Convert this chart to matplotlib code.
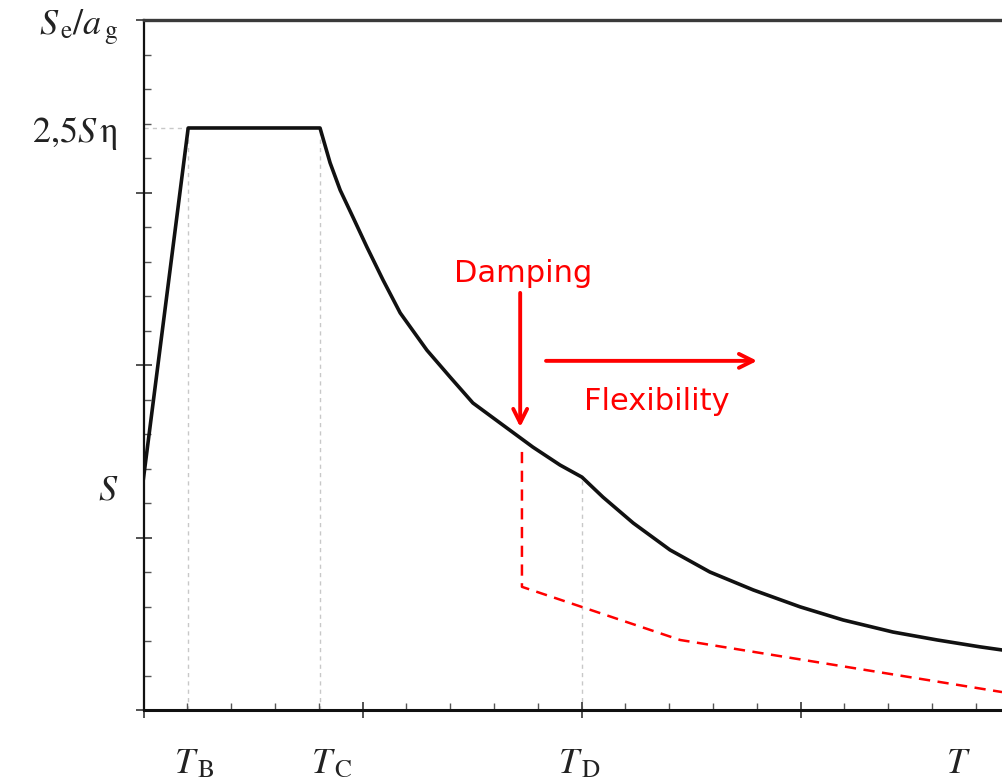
import matplotlib
matplotlib.use("Agg")
import matplotlib.pyplot as plt
from matplotlib.ticker import MultipleLocator, NullFormatter

plt.rcParams['mathtext.fontset'] = 'stix'

# ---- data (x in minor-tick units of T, y in minor-tick units) ----
T_B = 1.02
T_C = 4.03
T_D = 10.01
S_level = 6.72
plateau = 16.87

curve_T = [0.0, 1.02, 4.03, 4.26, 4.49, 4.78, 5.10, 5.47, 5.86, 6.47, 7.00, 7.52, 8.14, 8.89,
           9.51, 10.01, 10.49, 11.18, 12.02, 12.93, 13.92, 14.99, 15.97, 17.11, 18.12, 19.10, 19.60]
curve_S = [6.72, 16.87, 16.87, 15.86, 15.07, 14.29, 13.42, 12.46, 11.51, 10.43, 9.65, 8.90, 8.32, 7.62,
           7.10, 6.75, 6.17, 5.42, 4.64, 4.00, 3.48, 2.99, 2.61, 2.26, 2.03, 1.83, 1.74]

damped_T = [8.64, 8.64, 12.25, 19.60]
damped_S = [7.48, 3.57, 2.03, 0.52]

damping_arrow = {"x": 8.60, "y_start": 12.09, "y_end": 8.20}
flex_arrow = {"y": 10.12, "x_start": 9.19, "x_end": 14.01}

x_labels = [r"$T_{\,\mathrm{B}}$", r"$T_{\,\mathrm{C}}$", r"$T_{\,\mathrm{D}}$", r"$T$"]
x_label_pos = [1.15, 4.3, 9.95, 18.6]

W, H = 1002, 779
fig = plt.figure(figsize=(W / 100, H / 100), dpi=100)
left_px, right_px, top_px, bot_px = 143.5, 1002, 20, 710
ax = fig.add_axes([left_px / W, (H - bot_px) / H, (right_px - left_px) / W, (bot_px - top_px) / H])

ax.set_xlim(0, 19.60)
ax.set_ylim(0, 20)

# gray guide lines
gcol = '#c8c8c8'
ax.plot([T_B, T_B], [0, plateau], color=gcol, lw=1.0, ls=(0, (3, 3)), zorder=1)
ax.plot([T_C, T_C], [0, plateau], color=gcol, lw=1.0, ls=(0, (3, 3)), zorder=1)
ax.plot([T_D, T_D], [0, 6.75], color=gcol, lw=1.0, ls=(0, (3, 3)), zorder=1)
ax.plot([0, T_B], [plateau, plateau], color=gcol, lw=1.0, ls=(0, (3, 3)), zorder=1)

# main spectrum
ax.plot(curve_T, curve_S, color='#111111', lw=2.6, solid_joinstyle='round', zorder=3)

# damped spectrum
ax.plot(damped_T, damped_S, color='red', lw=1.8, ls=(0, (4.5, 3)), zorder=3, clip_on=False)

# arrows
ax.annotate('', xy=(damping_arrow["x"], damping_arrow["y_end"]),
            xytext=(damping_arrow["x"], damping_arrow["y_start"]),
            arrowprops=dict(arrowstyle='->,head_length=1.0,head_width=0.5', color='red', lw=2.8,
                            shrinkA=0, shrinkB=0))
ax.annotate('', xy=(flex_arrow["x_end"], flex_arrow["y"]),
            xytext=(flex_arrow["x_start"], flex_arrow["y"]),
            arrowprops=dict(arrowstyle='->,head_length=1.0,head_width=0.5', color='red', lw=2.8,
                            shrinkA=0, shrinkB=0))

ax.text(8.66, 12.65, "Damping", color='red', fontsize=22, ha='center', va='center',
        family='DejaVu Sans')
ax.text(11.72, 8.95, "Flexibility", color='red', fontsize=22, ha='center', va='center',
        family='DejaVu Sans')

# spines
ax.spines['right'].set_visible(False)
ax.spines['left'].set_linewidth(1.6)
ax.spines['bottom'].set_linewidth(2.2)
ax.spines['top'].set_linewidth(2.4)
ax.spines['top'].set_color('#3a3a3a')
ax.spines['left'].set_color('#111111')
ax.spines['bottom'].set_color('#111111')

# ticks
ax.xaxis.set_major_locator(MultipleLocator(5))
ax.xaxis.set_minor_locator(MultipleLocator(1))
ax.yaxis.set_major_locator(MultipleLocator(5))
ax.yaxis.set_minor_locator(MultipleLocator(1))
ax.xaxis.set_major_formatter(NullFormatter())
ax.yaxis.set_major_formatter(NullFormatter())
ax.tick_params(axis='both', which='major', direction='inout', length=12, width=1.3, color='#444444')
ax.tick_params(axis='both', which='minor', direction='in', length=5, width=1.0, color='#555555')
ax.tick_params(top=False, right=False)

# serif labels
lab = dict(fontsize=26, color='#222222')
fig.text(118 / W, 1 - 28 / H, r"$S_{\,\mathrm{e}}/a_{\,\mathrm{g}}$", ha='right', va='center', **lab)
fig.text(118 / W, 1 - 133 / H, r"$2{,}5S\,\mathrm{\eta}$", ha='right', va='center', **lab)
fig.text(118 / W, 1 - 490 / H, r"$S$", ha='right', va='center', **lab)
for lbl, xp in zip(x_labels, x_label_pos):
    ax.text(xp, -1.55, lbl, ha='center', va='center', clip_on=False, **lab)

fig.savefig("out.png", dpi=100)
